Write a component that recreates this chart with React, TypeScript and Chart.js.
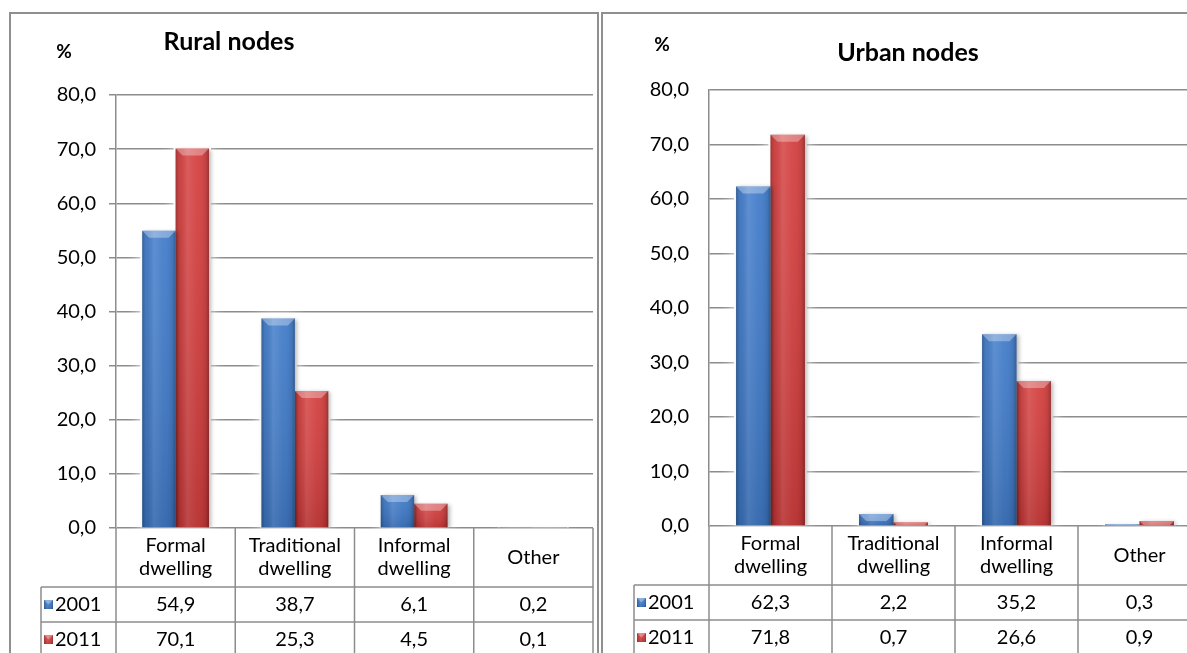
import { useEffect, useRef } from "react";
import { Chart, registerables } from "chart.js";

Chart.register(...registerables);

// Dwelling categories shown along the x axis and as table column headers
const categoryLabels: string[][] = [
  ["Formal", "dwelling"],
  ["Traditional", "dwelling"],
  ["Informal", "dwelling"],
  ["Other"],
];

// Census years (series)
const seriesNames = ["2001", "2011"];
const seriesColors = ["#3C78C8", "#D33A3A"];

// Share of households by dwelling type (%)
const ruralNodes2001 = [54.9, 38.7, 6.1, 0.2];
const ruralNodes2011 = [70.1, 25.3, 4.5, 0.1];
const urbanNodes2001 = [62.3, 2.2, 35.2, 0.3];
const urbanNodes2011 = [71.8, 0.7, 26.6, 0.9];

// Value axis ticks
const yTickValues = [0, 10, 20, 30, 40, 50, 60, 70, 80];

const FONT = "Lato, 'Open Sans', sans-serif";
const TEXT_SIZE = 20;
const LINE = "#8c8c8c";
const BORDER = "#8f8f8f";
const TABLE_HEADER = 59;
const TABLE_ROW = 35;
const LEGEND_COL = 75;

const fmt = (v: number) => v.toFixed(1).replace(".", ",");

// Bevelled, cylinder-like shading laid over a flat bar
function shadeBar(ctx: CanvasRenderingContext2D, left: number, top: number, w: number, h: number, bevel = 7) {
  if (h <= 0 || w <= 0) return;
  const hg = ctx.createLinearGradient(left, 0, left + w, 0);
  hg.addColorStop(0, "rgba(0,0,0,0.28)");
  hg.addColorStop(0.1, "rgba(0,0,0,0.05)");
  hg.addColorStop(0.35, "rgba(255,255,255,0.12)");
  hg.addColorStop(0.65, "rgba(255,255,255,0.03)");
  hg.addColorStop(0.9, "rgba(0,0,0,0.08)");
  hg.addColorStop(1, "rgba(0,0,0,0.30)");
  ctx.fillStyle = hg;
  ctx.fillRect(left, top, w, h);
  const vg = ctx.createLinearGradient(0, top, 0, top + h);
  vg.addColorStop(0, "rgba(255,255,255,0.06)");
  vg.addColorStop(1, "rgba(0,0,0,0.12)");
  ctx.fillStyle = vg;
  ctx.fillRect(left, top, w, h);
  const b = Math.min(bevel, h, w / 2);
  ctx.beginPath();
  ctx.moveTo(left, top);
  ctx.lineTo(left + w, top);
  ctx.lineTo(left + w - b, top + b);
  ctx.lineTo(left + b, top + b);
  ctx.closePath();
  ctx.fillStyle = "rgba(255,255,255,0.32)";
  ctx.fill();
}

function barBoxes(chart: any) {
  const boxes: { left: number; top: number; w: number; h: number }[] = [];
  chart.data.datasets.forEach((_: any, di: number) => {
    const meta = chart.getDatasetMeta(di);
    meta.data.forEach((el: any) => {
      const { x, y, base, width } = el.getProps(["x", "y", "base", "width"], true);
      const top = Math.min(y, base);
      boxes.push({ left: x - width / 2, top, w: width, h: Math.abs(base - y) });
    });
  });
  return boxes;
}

const barStylePlugin = {
  id: "barStyle",
  beforeDatasetsDraw(chart: any) {
    const ctx = chart.ctx as CanvasRenderingContext2D;
    ctx.save();
    ctx.shadowColor = "rgba(255,255,255,1)";
    ctx.shadowBlur = 14;
    ctx.fillStyle = "#fff";
    barBoxes(chart).forEach((b) => {
      if (b.h > 0) ctx.fillRect(b.left - 2, b.top - 2, b.w + 4, b.h + 2);
    });
    ctx.restore();
  },
  beforeDatasetDraw(chart: any) {
    const ctx = chart.ctx as CanvasRenderingContext2D;
    ctx.save();
    ctx.shadowColor = "rgba(0,0,0,0.28)";
    ctx.shadowBlur = 4;
    ctx.shadowOffsetX = 2;
    ctx.shadowOffsetY = 1;
  },
  afterDatasetDraw(chart: any) {
    chart.ctx.restore();
  },
  afterDatasetsDraw(chart: any) {
    const ctx = chart.ctx as CanvasRenderingContext2D;
    ctx.save();
    barBoxes(chart).forEach((b) => shadeBar(ctx, b.left, b.top, b.w, b.h));
    ctx.restore();
  },
};

// Data table under the plot: column borders, value rows and series keys
const dataTablePlugin = {
  id: "dataTable",
  afterDraw(chart: any) {
    const ctx = chart.ctx as CanvasRenderingContext2D;
    const area = chart.chartArea;
    const xs = chart.scales.x;
    const n = chart.data.labels.length;
    const datasets = chart.data.datasets;
    const top = area.bottom;
    const headerBottom = top + TABLE_HEADER;
    const bottom = headerBottom + TABLE_ROW * datasets.length;
    const legendLeft = area.left - LEGEND_COL;
    const seg = (x1: number, y1: number, x2: number, y2: number) => {
      ctx.beginPath();
      ctx.moveTo(x1, y1);
      ctx.lineTo(x2, y2);
      ctx.stroke();
    };
    ctx.save();
    ctx.strokeStyle = LINE;
    ctx.lineWidth = 1.5;
    for (let i = 0; i <= n; i++) {
      const px = xs.getPixelForValue(i - 0.5);
      seg(px, top, px, bottom);
    }
    seg(legendLeft, headerBottom, legendLeft, bottom);
    for (let r = 0; r <= datasets.length; r++) {
      const py = headerBottom + r * TABLE_ROW;
      seg(legendLeft, py, xs.getPixelForValue(n - 0.5), py);
    }
    ctx.font = `${TEXT_SIZE}px ${FONT}`;
    ctx.textBaseline = "middle";
    datasets.forEach((ds: any, r: number) => {
      const cy = headerBottom + r * TABLE_ROW + TABLE_ROW / 2;
      ctx.textAlign = "center";
      ctx.fillStyle = "#000";
      ds.data.forEach((v: number, i: number) => ctx.fillText(fmt(v), xs.getPixelForValue(i), cy));
      const s = 9;
      ctx.fillStyle = ds.backgroundColor;
      ctx.fillRect(legendLeft + 3, cy - s / 2, s, s);
      shadeBar(ctx, legendLeft + 3, cy - s / 2, s, s, 4.5);
      ctx.fillStyle = "#000";
      ctx.textAlign = "left";
      ctx.fillText(ds.label, legendLeft + 14, cy);
    });
    ctx.restore();
  },
};

// Panel heading and the unit label above the value axis
const panelTextPlugin = {
  id: "panelText",
  afterDraw(chart: any, _args: any, opts: any) {
    const ctx = chart.ctx as CanvasRenderingContext2D;
    ctx.save();
    ctx.fillStyle = "#000";
    ctx.textBaseline = "middle";
    ctx.textAlign = "center";
    ctx.font = `bold 25px ${FONT}`;
    ctx.fillText(opts.title, opts.titleX, opts.titleY);
    ctx.font = `bold 19px ${FONT}`;
    ctx.fillText("%", opts.unitX, opts.unitY);
    ctx.restore();
  },
};

type PanelSpec = {
  title: string;
  values: number[][];
  left: number;
  top: number;
  width: number;
  canvasWidth: number;
  canvasHeight: number;
  padding: { left: number; right: number; top: number; bottom: number };
  yAxisWidth: number;
  tickLength: number;
  tickPadding: number;
  titleX: number;
  titleY: number;
  unitX: number;
  unitY: number;
};

const panels: PanelSpec[] = [
  {
    title: "Rural nodes",
    values: [ruralNodes2001, ruralNodes2011],
    left: 9,
    top: 12,
    width: 590,
    canvasWidth: 586,
    canvasHeight: 680,
    padding: { left: 0, right: 4, top: 81, bottom: 37 },
    yAxisWidth: 105,
    tickLength: 7,
    tickPadding: 13,
    titleX: 218,
    titleY: 28,
    unitX: 53,
    unitY: 38,
  },
  {
    title: "Urban nodes",
    values: [urbanNodes2001, urbanNodes2011],
    left: 601,
    top: 12,
    width: 620,
    canvasWidth: 616,
    canvasHeight: 680,
    padding: { left: 0, right: 18, top: 76, bottom: 39 },
    yAxisWidth: 106,
    tickLength: 0,
    tickPadding: 20,
    titleX: 305,
    titleY: 39,
    unitX: 59,
    unitY: 31,
  },
];

function Panel({ spec }: { spec: PanelSpec }) {
  const ref = useRef<HTMLCanvasElement>(null);

  useEffect(() => {
    const canvas = ref.current;
    if (!canvas) return;
    const chart = new Chart(canvas, {
      type: "bar",
      data: {
        labels: categoryLabels as any,
        datasets: seriesNames.map((name, i) => ({
          label: name,
          data: spec.values[i],
          backgroundColor: seriesColors[i],
          borderWidth: 0,
          categoryPercentage: 0.56,
          barPercentage: 1,
        })),
      },
      options: {
        responsive: false,
        animation: false,
        devicePixelRatio: 1,
        layout: { padding: spec.padding },
        plugins: {
          legend: { display: false },
          tooltip: { enabled: false },
          title: { display: false },
          panelText: {
            title: spec.title,
            titleX: spec.titleX,
            titleY: spec.titleY,
            unitX: spec.unitX,
            unitY: spec.unitY,
          },
        } as any,
        scales: {
          x: {
            afterFit: (s: any) => {
              s.height = TABLE_HEADER + TABLE_ROW * seriesNames.length;
            },
            grid: { display: false, drawTicks: false },
            border: { display: false },
            ticks: {
              color: "#000",
              font: { family: FONT, size: TEXT_SIZE, lineHeight: 1.15 },
              padding: 18,
              crossAlign: "center",
              autoSkip: false,
              maxRotation: 0,
            },
          },
          y: {
            min: 0,
            max: 80,
            afterBuildTicks: (s: any) => {
              s.ticks = yTickValues.map((value) => ({ value }));
            },
            afterFit: (s: any) => {
              s.width = spec.yAxisWidth;
            },
            ticks: {
              color: "#000",
              font: { family: FONT, size: TEXT_SIZE },
              padding: spec.tickPadding,
              autoSkip: false,
              callback: (v: any) => fmt(Number(v)),
            },
            grid: {
              color: LINE,
              lineWidth: 1.5,
              drawTicks: spec.tickLength > 0,
              tickLength: spec.tickLength,
            },
            border: { display: true, color: LINE, width: 1.5 },
          },
        },
      } as any,
      plugins: [barStylePlugin, dataTablePlugin, panelTextPlugin],
    });
    return () => chart.destroy();
  }, [spec]);

  return (
    <div
      style={{
        position: "absolute",
        left: spec.left,
        top: spec.top,
        width: spec.width,
        height: 700,
        boxSizing: "border-box",
        border: `2px solid ${BORDER}`,
        background: "#fff",
      }}
    >
      <canvas
        ref={ref}
        width={spec.canvasWidth}
        height={spec.canvasHeight}
        style={{ display: "block", width: spec.canvasWidth, height: spec.canvasHeight }}
      />
    </div>
  );
}

export default function App() {
  return (
    <div
      style={{
        position: "fixed",
        left: 0,
        top: 0,
        width: 1187,
        height: 653,
        overflow: "hidden",
        background: "#fff",
      }}
    >
      {panels.map((p) => (
        <Panel key={p.title} spec={p} />
      ))}
    </div>
  );
}
